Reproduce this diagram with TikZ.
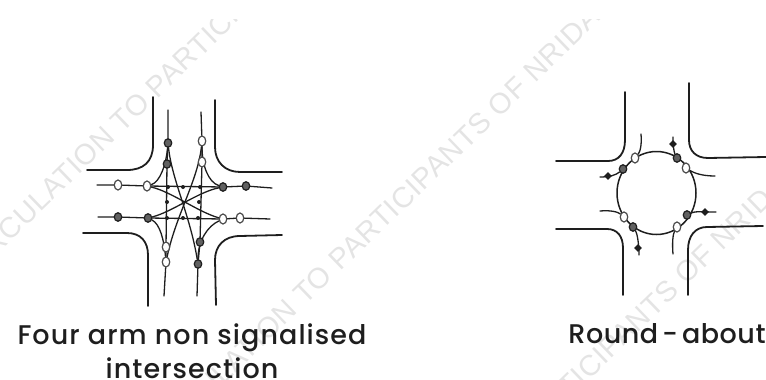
\documentclass[tikz,border=0pt]{standalone}
\usepackage{fontspec}
\setmainfont{Poppins}[UprightFont=* Medium]
\newfontfamily\wmfont{Liberation Sans}
\usetikzlibrary{shapes.geometric,backgrounds}
\definecolor{ink}{HTML}{1E1E1E}
\definecolor{wm}{HTML}{E4E4E4}
\tikzset{
 road/.style={draw=ink,line width=1.8pt,line cap=round},
 lane/.style={draw=ink,line width=1.3pt,line cap=round},
 opencp/.style={ellipse,draw=ink!80,line width=1.2pt,fill=white,minimum width=7.5pt,minimum height=10pt,inner sep=0pt},
 darkcp/.style={ellipse,draw=ink,line width=1.2pt,fill=ink!70,minimum width=7.5pt,minimum height=8.5pt,inner sep=0pt},
 tick/.style={circle,fill=ink,minimum size=4pt,inner sep=0pt},
 blob/.style={diamond,fill=ink,minimum size=8pt,inner sep=0pt},
 caption/.style={font=\fontsize{27}{34}\selectfont\addfontfeatures{LetterSpace=4},text=ink,align=center,inner sep=0pt},
 captiontight/.style={font=\fontsize{27}{34}\selectfont\addfontfeatures{LetterSpace=2},text=ink,align=center,inner sep=0pt},
 watermark/.style={font=\wmfont\fontsize{29}{30}\selectfont\addfontfeatures{LetterSpace=2},text=wm,rotate=44,inner sep=0pt,anchor=east}
}
\begin{document}
\begin{tikzpicture}[x=1pt,y=-1pt]
\useasboundingbox (0,0) rectangle (766,380);
% ---- left: conflict points
\node[opencp] (a1) at (118,185) {};
\node[opencp] (a2) at (147,186) {};
\node[darkcp] (a3) at (223,187) {};
\node[darkcp] (a4) at (246,186) {};
\node[darkcp] (b1) at (118,217) {};
\node[darkcp] (b2) at (148,218) {};
\node[opencp] (b3) at (223,219) {};
\node[opencp] (b4) at (240,218) {};
\node[darkcp] (c1) at (168,143) {};
\node[darkcp] (c2) at (167,164) {};
\node[opencp] (c3) at (166,247) {};
\node[opencp] (c4) at (166,262) {};
\node[opencp] (d1) at (202,141) {};
\node[opencp] (d2) at (202,162) {};
\node[darkcp] (d3) at (200,242) {};
\node[darkcp] (d4) at (198,264) {};
\foreach \p/\x/\y in {t1/168/187,t2/200/187,t3/167/218,t4/198/218,t5/167/202,t6/199/202,t7/183/187,t8/183/218}
  \node[tick] (\p) at (\x,\y) {};
\coordinate (lw1) at (97,185);  \coordinate (le1) at (272,188);
\coordinate (lw2) at (98,217);  \coordinate (le2) at (270,219);
\coordinate (ln1) at (168,110); \coordinate (ls1) at (164,296);
\coordinate (ln2) at (201,112); \coordinate (ls2) at (197,296);
% ---- right: circle and points
\node[ellipse,draw=ink,line width=1.5pt,minimum width=79pt,minimum height=83pt,inner sep=0pt] (ring) at (656.5,193) {};
\node[opencp] (r1) at (635,158) {};
\node[opencp] (r2) at (686,168) {};
\node[opencp] (r3) at (677,227) {};
\node[opencp] (r4) at (624,217) {};
\node[darkcp] (r5) at (623,169) {};
\node[darkcp] (r6) at (677,158) {};
\node[darkcp] (r7) at (687,215) {};
\node[darkcp] (r8) at (633,227) {};
\node[blob] (x1) at (608,176) {};
\node[blob] (x2) at (673,144) {};
\node[blob] (x3) at (705,212) {};
\node[blob] (x4) at (638,248) {};
\coordinate (e1) at (641,134);
\coordinate (e2) at (715,176);
\coordinate (e3) at (673,254);
\coordinate (e4) at (600,211);
\coordinate (o1) at (600,177);
\coordinate (o2) at (673,137);
\coordinate (o3) at (716,212);
\coordinate (o4) at (639,255);
% ---- captions
\node[caption] (cap1) at (192,351) {Four arm non signalised\\intersection};
\node[captiontight] (cap2) at (667,334) {\spaceskip=4pt Round - about};
\begin{pgfonlayer}{background}
% watermark
\begin{scope}
\clip (0,19) rectangle (766,380);
\node[watermark] (wa) at (304,-56) {CIRCULATION TO PARTICIPANTS};
\node[watermark] (wb) at (595,12) {CIRCULATION TO PARTICIPANTS OF NRIDA};
\node[watermark] (wc) at (782,180) {PARTICIPANTS OF NRIDA};
\end{scope}
% ---- left: kerbs
\draw[road] (153,97) -- (153,145) .. controls (153,162) and (143,170) .. (127,170) -- (87,170);
\draw[road] (215,100) -- (215,147) .. controls (215,162) and (225,172) .. (240,172) -- (282,172);
\draw[road] (83,233) -- (127,233) .. controls (141,233) and (148,242) .. (148,255) -- (148,306);
\draw[road] (282,235) -- (240,236) .. controls (224,236) and (215,246) .. (215,260) -- (216,305);
% ---- left: lanes and turning paths
\draw[lane] (lw1) -- (a1) -- (a2) -- (a3) -- (a4) -- (le1);
\draw[lane] (lw2) -- (b1) -- (b2) -- (b3) -- (b4) -- (le2);
\draw[lane] (ln1) -- (c1) -- (c2) -- (c3) -- (c4) -- (ls1);
\draw[lane] (ln2) -- (d1) -- (d2) -- (d3) -- (d4) -- (ls2);
\draw[lane] (c1) .. controls (166,165) and (160,182) .. (a2);
\draw[lane] (d1) .. controls (202,165) and (208,182) .. (a3);
\draw[lane] (c4) .. controls (164,240) and (160,224) .. (b2);
\draw[lane] (d4) .. controls (198,240) and (208,226) .. (b3);
\draw[lane] (c1) .. controls (172,180) and (190,215) .. (d4);
\draw[lane] (d1) .. controls (198,180) and (176,215) .. (c4);
\draw[lane] (a2) .. controls (172,192) and (198,212) .. (b3);
\draw[lane] (a3) .. controls (198,192) and (172,212) .. (b2);
% ---- right: kerbs
\draw[road] (625,92) -- (625,140) .. controls (625,153) and (619,161) .. (608,161) -- (556,161);
\draw[road] (689,83) -- (689,140) .. controls (689,151) and (696,158) .. (708,158) -- (766,157);
\draw[road] (556,229) -- (607,229) .. controls (617,229) and (623,236) .. (623,248) -- (623,295);
\draw[road] (763,226) -- (707,227) .. controls (695,227) and (688,236) .. (688,250) -- (688,295);
% ---- right: entries and exits
\draw[lane] (e1) .. controls (642,145) and (640,152) .. (r1);
\draw[lane] (e2) .. controls (702,176) and (694,173) .. (r2);
\draw[lane] (e3) .. controls (672,243) and (673,234) .. (r3);
\draw[lane] (e4) .. controls (611,210) and (618,212) .. (r4);
\draw[lane] (o1) .. controls (610,177) and (616,175) .. (r5);
\draw[lane] (o2) .. controls (673,146) and (674,152) .. (r6);
\draw[lane] (o3) .. controls (703,212) and (695,211) .. (r7);
\draw[lane] (o4) .. controls (639,243) and (637,233) .. (r8);
\end{pgfonlayer}
\end{tikzpicture}
\end{document}
